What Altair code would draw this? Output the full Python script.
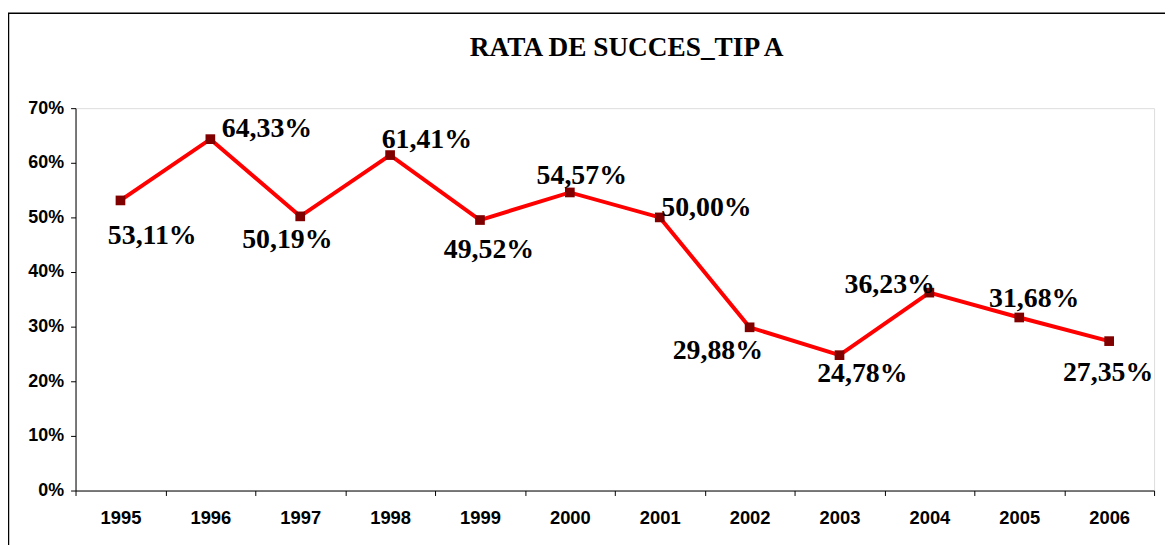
import altair as alt
import pandas as pd

# ---- data ----
YEARS = ["1995", "1996", "1997", "1998", "1999", "2000",
         "2001", "2002", "2003", "2004", "2005", "2006"]
RATE = [53.11, 64.33, 50.19, 61.41, 49.52, 54.57,
        50.00, 29.88, 24.78, 36.23, 31.68, 27.35]
TITLE = "RATA DE SUCCES_TIP A"
Y_TICKS = [0, 10, 20, 30, 40, 50, 60, 70]

# ---- label placement (pixel offsets from each marker, like the manual Excel labels) ----
LABEL_DX = [32, 57, -13, 37, 9, 12, 47, -32, 23, -40, 15, -1]
LABEL_DY = [44, -2, 32, -7, 38, -9, -1, 32, 27, 0, -11, 40]

df = pd.DataFrame({"year": YEARS, "rate": RATE})

W, H = 1086, 385

x_enc = alt.X("year:O", sort=YEARS,
              scale=alt.Scale(type="band", paddingInner=0, paddingOuter=0),
              axis=alt.Axis(title=None, labelAngle=0, tickBand="extent",
                            labelFont="Liberation Sans", labelFontWeight="bold",
                            labelFontSize=18.5, labelColor="black", labelPadding=13,
                            tickSize=5, tickColor="black", domainColor="black",
                            labelBaseline="top"))
y_enc = alt.Y("rate:Q", scale=alt.Scale(domain=[0, 70], nice=False),
              axis=alt.Axis(title=None, values=Y_TICKS, grid=False,
                            labelExpr="datum.value + '%'",
                            labelFont="Liberation Sans", labelFontWeight="bold",
                            labelFontSize=18, labelColor="black", labelPadding=7,
                            tickSize=5, tickColor="black", domainColor="black"))

base = alt.Chart(df)

line = base.mark_line(color="#FF0000", strokeWidth=4).encode(x=x_enc, y=y_enc)
pts = base.mark_point(shape="square", filled=True, color="#800000", size=95,
                      opacity=1).encode(x=x_enc, y=y_enc)

labels = []
for yr, dx, dy in zip(YEARS, LABEL_DX, LABEL_DY):
    labels.append(
        base.transform_filter(alt.datum.year == yr)
        .transform_calculate(lbl="replace(format(datum.rate, '.2f'), '.', ',') + '%'")
        .mark_text(font="Liberation Serif", fontWeight="bold", fontSize=28,
                   color="black", align="center", baseline="alphabetic",
                   dx=dx, dy=dy)
        .encode(x=x_enc, y=y_enc, text="lbl:N")
    )

one = alt.Data(values=[{"t": TITLE}])

frame = alt.Chart(one).mark_rect(
    fill=None, stroke="black", strokeWidth=1.5
).encode(x=alt.value(-67.5), x2=alt.value(1300), y=alt.value(-95.5), y2=alt.value(600))

title = alt.Chart(one).mark_text(
    font="Liberation Serif", fontWeight="bold", fontSize=27.5, color="black",
    align="center", baseline="alphabetic"
).encode(x=alt.value(W / 2 + 12), y=alt.value(-53), text="t:N")

chart = alt.layer(frame, title, line, pts, *labels).properties(
    width=W, height=H,
    autosize=alt.AutoSizeParams(type="none"),
    padding={"left": 68, "top": 99, "right": 11, "bottom": 53},
).configure_view(stroke=None).configure(background="white")

chart.save("out.html", embed_options={"renderer": "svg", "actions": False})
